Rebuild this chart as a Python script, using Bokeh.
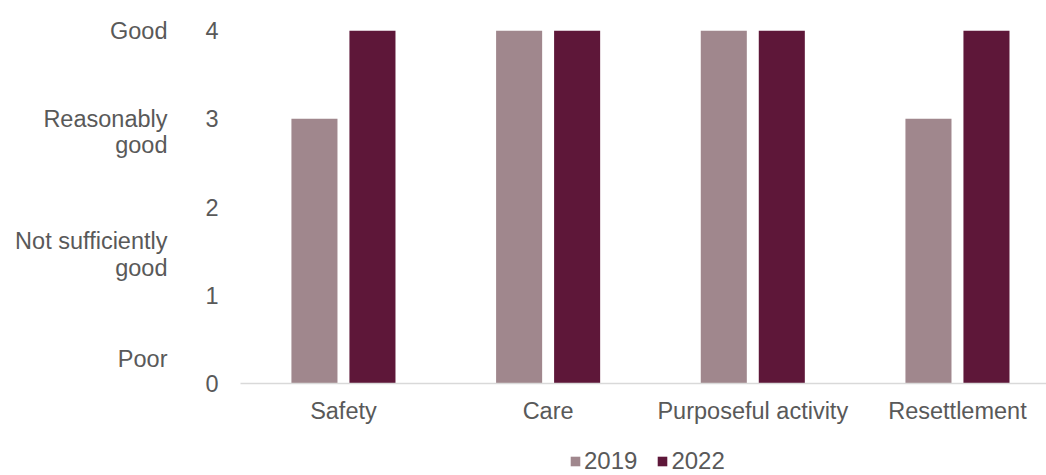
from bokeh.plotting import figure
from bokeh.layouts import column
from bokeh.models import (ColumnDataSource, Range1d, FixedTicker, LinearAxis, Legend, LegendItem)
from bokeh.transform import dodge
from bokeh.embed import file_html
from bokeh.resources import INLINE

# ---- data ----
categories = ["Safety", "Care", "Purposeful activity", "Resettlement"]
values_2019 = [3, 4, 4, 3]
values_2022 = [4, 4, 4, 4]
years = ["2019", "2022"]
y_ticks = [0, 1, 2, 3, 4]
rating_lines = ["Good", "Reasonably", "good", "Not sufficiently", "good", "Poor"]
rating_line_y = [4.0, 3.0, 2.70, 1.62, 1.31, 0.28]

# ---- style ----
FONT = "Liberation Sans"
TXT = "#595959"
C2019 = "#A0878D"
C2022 = "#5E1739"
COLORS = [C2019, C2022]
FS = "23.5px"

x_idx = list(range(len(categories)))
src = ColumnDataSource(dict(x=x_idx, v2019=values_2019, v2022=values_2022))

p = figure(width=1046, height=430,
           output_backend="svg", toolbar_location=None,
           x_range=Range1d(-0.503, 3.435), y_range=Range1d(0, 4),
           min_border_left=240, min_border_right=0, min_border_top=30,
           min_border_bottom=47)
p.outline_line_color = None
p.grid.visible = False
p.background_fill_color = "white"

bw = 0.225
off = 0.1417
r1 = p.vbar(x=dodge("x", -off), top="v2019", width=bw, source=src,
            fill_color=C2019, line_color=None)
r2 = p.vbar(x=dodge("x", off), top="v2022", width=bw, source=src,
            fill_color=C2022, line_color=None)

def style_axis(ax, standoff):
    ax.axis_line_color = None
    ax.major_tick_line_color = None
    ax.minor_tick_line_color = None
    ax.major_tick_out = 0
    ax.major_tick_in = 0
    ax.major_label_standoff = standoff
    ax.major_label_text_font = FONT
    ax.major_label_text_font_size = FS
    ax.major_label_text_color = TXT

# numeric y axis
ya = p.yaxis[0]
ya.ticker = FixedTicker(ticks=y_ticks)
style_axis(ya, 22)

# rating text axis (outer left)
ra = LinearAxis(ticker=FixedTicker(ticks=rating_line_y),
                major_label_overrides={yv: t for yv, t in zip(rating_line_y, rating_lines)})
style_axis(ra, 35)
p.add_layout(ra, "left")

# x axis
xa = p.xaxis[0]
xa.ticker = FixedTicker(ticks=x_idx)
xa.major_label_overrides = {i: c for i, c in zip(x_idx, categories)}
style_axis(xa, 14)
xa.axis_line_color = "#D9D9D9"
xa.axis_line_width = 1.5

# legend strip below (frame is aligned with the chart frame by the column layout)
lg = figure(width=1046, height=45, output_backend="svg", toolbar_location=None,
            x_range=Range1d(0, 1), y_range=Range1d(0, 1),
            min_border=0)
lg.outline_line_color = None
lg.axis.visible = False
lg.grid.visible = False
items = []
for yr, col in zip(years, COLORS):
    # zero-height proxy bar: only its legend swatch is seen
    rr = lg.vbar(x=[0.5], top=[0], bottom=[0], width=0,
                 fill_color=col, line_color=None)
    items.append(LegendItem(label=yr, renderers=[rr]))
legend = Legend(items=items, orientation="horizontal", location=(329, 0))
legend.glyph_width = 12
legend.glyph_height = 12
legend.label_standoff = 3
legend.spacing = 19
legend.padding = 0
legend.margin = 0
legend.border_line_color = None
legend.background_fill_alpha = 0
legend.label_text_font = FONT
legend.label_text_font_size = "24px"
legend.label_text_color = TXT
lg.add_layout(legend, "center")

layout = column(p, lg, spacing=0)
open("out.html", "w").write(file_html(layout, INLINE))
